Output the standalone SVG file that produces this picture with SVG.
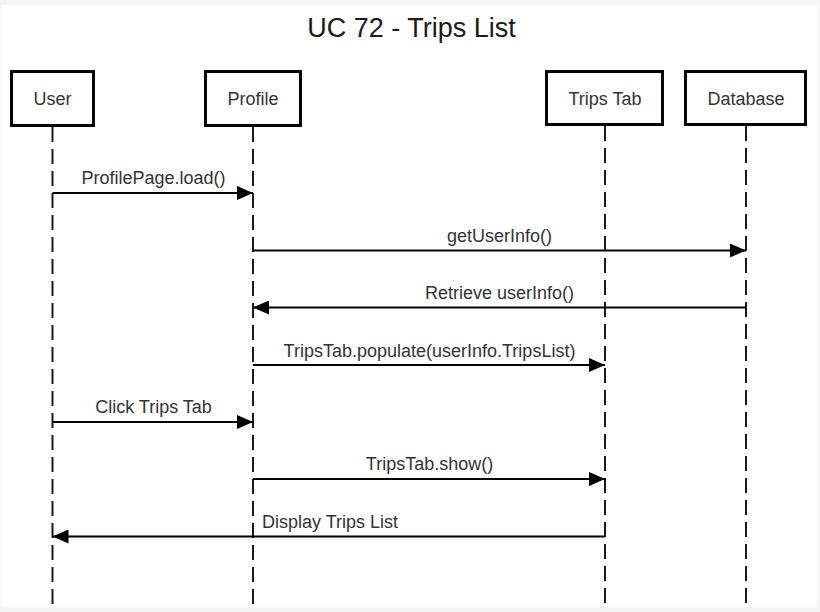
<svg xmlns="http://www.w3.org/2000/svg" width="820" height="612" viewBox="0 0 820 612">
<defs>
<style>
.bg{fill:#f5f5f5}
.box{fill:#ffffff;stroke:#000000;stroke-width:3}
.life{stroke:#1a1a1a;stroke-width:2;stroke-dasharray:15 7;fill:none}
.msg{stroke:#000000;stroke-width:2;fill:none}
.t{font-family:"Liberation Sans",Arial,sans-serif;font-size:18px;fill:#333333;text-anchor:middle}
.title{font-family:"Liberation Sans",Arial,sans-serif;font-size:27px;fill:#1a1a1a;text-anchor:middle}
</style>
<marker id="ah" viewBox="0 0 16 14" refX="16" refY="7" markerWidth="16" markerHeight="14" markerUnits="userSpaceOnUse" orient="auto">
<path d="M0,0 L16,7 L0,14 Z" fill="#000000"/>
</marker>
</defs>
<rect class="bg" x="0" y="0" width="820" height="612"/>
<rect x="1" y="5" width="816" height="602" fill="#ffffff"/>
<text class="title" x="411.5" y="37">UC 72 - Trips List</text>
<g id="lifelines">
<line class="life" x1="52.5" y1="127" x2="52.5" y2="607"/>
<line class="life" x1="253" y1="127" x2="253" y2="607"/>
<line class="life" x1="605" y1="126" x2="605" y2="607"/>
<line class="life" x1="746" y1="126" x2="746" y2="607"/>
</g>
<g id="user">
<rect class="box" x="11.5" y="71.5" width="82" height="54"/>
<text class="t" x="52.5" y="105">User</text>
</g>
<g id="profile">
<rect class="box" x="205.5" y="71.5" width="95" height="54"/>
<text class="t" x="253" y="105">Profile</text>
</g>
<g id="tripstab">
<rect class="box" x="546.5" y="71.5" width="116" height="53"/>
<text class="t" x="605" y="105">Trips Tab</text>
</g>
<g id="database">
<rect class="box" x="685.5" y="71.5" width="120" height="53"/>
<text class="t" x="746" y="105">Database</text>
</g>
<g id="connectors">
<line class="msg" x1="52.5" y1="193" x2="253" y2="193" marker-end="url(#ah)"/>
<text class="t" x="153.5" y="184">ProfilePage.load()</text>
<line class="msg" x1="253" y1="250.5" x2="746" y2="250.5" marker-end="url(#ah)"/>
<text class="t" x="499.5" y="242">getUserInfo()</text>
<line class="msg" x1="746" y1="307.5" x2="253" y2="307.5" marker-end="url(#ah)"/>
<text class="t" x="499.5" y="299">Retrieve userInfo()</text>
<line class="msg" x1="253" y1="365" x2="605" y2="365" marker-end="url(#ah)"/>
<text class="t" x="429.5" y="357">TripsTab.populate(userInfo.TripsList)</text>
<line class="msg" x1="52.5" y1="422" x2="253" y2="422" marker-end="url(#ah)"/>
<text class="t" x="153.5" y="413">Click Trips Tab</text>
<line class="msg" x1="253" y1="479" x2="605" y2="479" marker-end="url(#ah)"/>
<text class="t" x="429.5" y="470">TripsTab.show()</text>
<line class="msg" x1="605" y1="536.5" x2="52.5" y2="536.5" marker-end="url(#ah)"/>
<text class="t" x="330" y="528">Display Trips List</text>
</g>
</svg>
